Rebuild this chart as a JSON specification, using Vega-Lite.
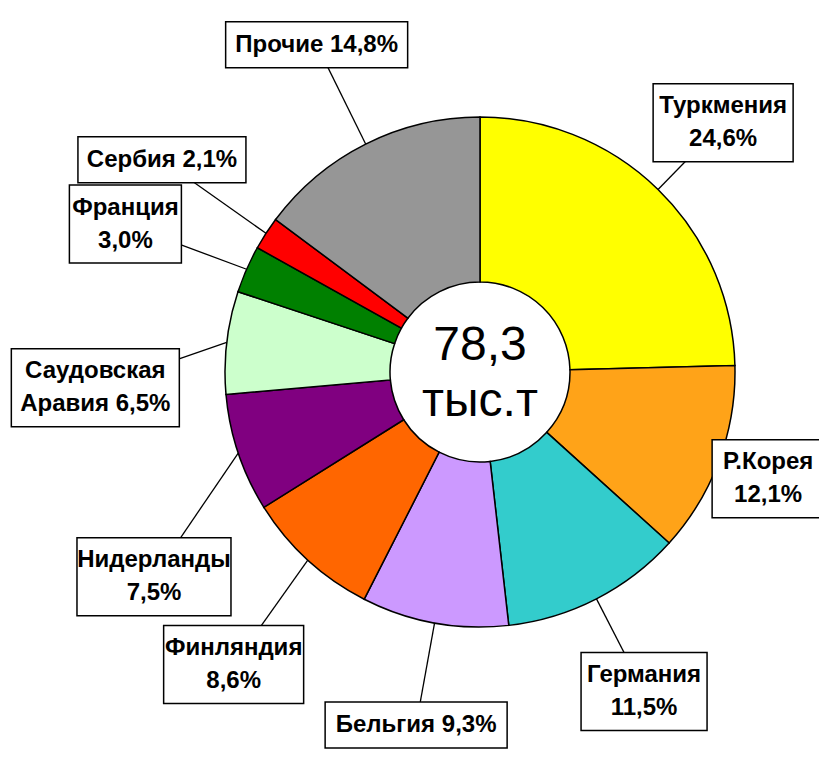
{
  "$schema": "https://vega.github.io/schema/vega-lite/v6.json",
  "width": 678,
  "height": 744,
  "autosize": {"type": "none"},
  "padding": {"left": 141, "top": 0, "right": 0, "bottom": 39},
  "background": "white",
  "config": {"view": {"stroke": null}},
  "datasets": {
    "shares": [
      {"rank": 1, "country": "Туркмения", "share": 24.6, "label": "Туркмения\n24,6%"},
      {"rank": 2, "country": "Р.Корея", "share": 12.1, "label": "Р.Корея\n12,1%"},
      {"rank": 3, "country": "Германия", "share": 11.5, "label": "Германия\n11,5%"},
      {"rank": 4, "country": "Бельгия", "share": 9.3, "label": "Бельгия 9,3%"},
      {"rank": 5, "country": "Финляндия", "share": 8.6, "label": "Финляндия\n8,6%"},
      {"rank": 6, "country": "Нидерланды", "share": 7.5, "label": "Нидерланды\n7,5%"},
      {"rank": 7, "country": "Саудовская Аравия", "share": 6.5, "label": "Саудовская\nАравия 6,5%"},
      {"rank": 8, "country": "Франция", "share": 3.0, "label": "Франция\n3,0%"},
      {"rank": 9, "country": "Сербия", "share": 2.1, "label": "Сербия 2,1%"},
      {"rank": 10, "country": "Прочие", "share": 14.8, "label": "Прочие 14,8%"}
    ],
    "total": [{"label": "78,3\nтыс.т"}]
  },
  "layer": [
    {
      "data": {"name": "shares"},
      "mark": {"type": "arc", "innerRadius": 90, "outerRadius": 255, "stroke": "black", "strokeWidth": 1.5},
      "encoding": {
        "theta": {"field": "share", "type": "quantitative", "stack": true},
        "order": {"field": "rank", "type": "quantitative"},
        "color": {
          "field": "country",
          "type": "nominal",
          "scale": {
            "domain": ["Туркмения", "Р.Корея", "Германия", "Бельгия", "Финляндия", "Нидерланды", "Саудовская Аравия", "Франция", "Сербия", "Прочие"],
            "range": ["#FFFF00", "#FFA318", "#33CCCC", "#CC99FF", "#FF6600", "#800080", "#CCFFCC", "#008000", "#FF0000", "#969696"]
          },
          "legend": null
        }
      }
    },
    {
      "data": {"name": "shares"},
      "transform": [
        {"stack": "share", "groupby": [], "sort": [{"field": "rank", "order": "ascending"}], "offset": "normalize", "as": ["s0", "s1"]}
      ],
      "mark": {"type": "rule", "stroke": "black", "strokeWidth": 1.3},
      "encoding": {
        "x": {"value": {"expr": "width/2 + 255*sin((PI*(datum.s0+datum.s1)))"}},
        "y": {"value": {"expr": "height/2 - 255*cos((PI*(datum.s0+datum.s1)))"}},
        "x2": {"value": {"expr": "width/2 + (385 - 90*pow(max(0, sin((PI*(datum.s0+datum.s1)))), 4) - 15*max(0, sin((PI*(datum.s0+datum.s1))))*max(0, cos((PI*(datum.s0+datum.s1)))) - 30*pow(max(0, cos((PI*(datum.s0+datum.s1)))), 4) - 30*pow(max(0, -cos((PI*(datum.s0+datum.s1)))), 8) - 25*max(0, -cos((PI*(datum.s0+datum.s1))))*max(0, sin((PI*(datum.s0+datum.s1)))))*sin(((PI*(datum.s0+datum.s1)) + 0.45*sin((PI*(datum.s0+datum.s1)) - 5.2011)*pow(max(0, -sin((PI*(datum.s0+datum.s1)))), 6)))"}},
        "y2": {"value": {"expr": "height/2 - (385 - 90*pow(max(0, sin((PI*(datum.s0+datum.s1)))), 4) - 15*max(0, sin((PI*(datum.s0+datum.s1))))*max(0, cos((PI*(datum.s0+datum.s1)))) - 30*pow(max(0, cos((PI*(datum.s0+datum.s1)))), 4) - 30*pow(max(0, -cos((PI*(datum.s0+datum.s1)))), 8) - 25*max(0, -cos((PI*(datum.s0+datum.s1))))*max(0, sin((PI*(datum.s0+datum.s1)))))*cos(((PI*(datum.s0+datum.s1)) + 0.45*sin((PI*(datum.s0+datum.s1)) - 5.2011)*pow(max(0, -sin((PI*(datum.s0+datum.s1)))), 6)))"}}
      }
    },
    {
      "data": {"name": "shares"},
      "transform": [
        {"stack": "share", "groupby": [], "sort": [{"field": "rank", "order": "ascending"}], "offset": "normalize", "as": ["s0", "s1"]}
      ],
      "mark": {
        "type": "rect",
        "fill": "white",
        "stroke": "black",
        "strokeWidth": 1.5,
        "x": {"expr": "width/2 + (385 - 90*pow(max(0, sin((PI*(datum.s0+datum.s1)))), 4) - 15*max(0, sin((PI*(datum.s0+datum.s1))))*max(0, cos((PI*(datum.s0+datum.s1)))) - 30*pow(max(0, cos((PI*(datum.s0+datum.s1)))), 4) - 30*pow(max(0, -cos((PI*(datum.s0+datum.s1)))), 8) - 25*max(0, -cos((PI*(datum.s0+datum.s1))))*max(0, sin((PI*(datum.s0+datum.s1)))))*sin(((PI*(datum.s0+datum.s1)) + 0.45*sin((PI*(datum.s0+datum.s1)) - 5.2011)*pow(max(0, -sin((PI*(datum.s0+datum.s1)))), 6))) - (14*(indexof(datum.label, '\\n') >= 0 ? max(indexof(datum.label, '\\n'), length(datum.label) - indexof(datum.label, '\\n') - 1) : length(datum.label)) + 14)/2"},
        "x2": {"expr": "width/2 + (385 - 90*pow(max(0, sin((PI*(datum.s0+datum.s1)))), 4) - 15*max(0, sin((PI*(datum.s0+datum.s1))))*max(0, cos((PI*(datum.s0+datum.s1)))) - 30*pow(max(0, cos((PI*(datum.s0+datum.s1)))), 4) - 30*pow(max(0, -cos((PI*(datum.s0+datum.s1)))), 8) - 25*max(0, -cos((PI*(datum.s0+datum.s1))))*max(0, sin((PI*(datum.s0+datum.s1)))))*sin(((PI*(datum.s0+datum.s1)) + 0.45*sin((PI*(datum.s0+datum.s1)) - 5.2011)*pow(max(0, -sin((PI*(datum.s0+datum.s1)))), 6))) + (14*(indexof(datum.label, '\\n') >= 0 ? max(indexof(datum.label, '\\n'), length(datum.label) - indexof(datum.label, '\\n') - 1) : length(datum.label)) + 14)/2"},
        "y": {"expr": "height/2 - (385 - 90*pow(max(0, sin((PI*(datum.s0+datum.s1)))), 4) - 15*max(0, sin((PI*(datum.s0+datum.s1))))*max(0, cos((PI*(datum.s0+datum.s1)))) - 30*pow(max(0, cos((PI*(datum.s0+datum.s1)))), 4) - 30*pow(max(0, -cos((PI*(datum.s0+datum.s1)))), 8) - 25*max(0, -cos((PI*(datum.s0+datum.s1))))*max(0, sin((PI*(datum.s0+datum.s1)))))*cos(((PI*(datum.s0+datum.s1)) + 0.45*sin((PI*(datum.s0+datum.s1)) - 5.2011)*pow(max(0, -sin((PI*(datum.s0+datum.s1)))), 6))) - (indexof(datum.label, '\\n') >= 0 ? 39 : 23)"},
        "y2": {"expr": "height/2 - (385 - 90*pow(max(0, sin((PI*(datum.s0+datum.s1)))), 4) - 15*max(0, sin((PI*(datum.s0+datum.s1))))*max(0, cos((PI*(datum.s0+datum.s1)))) - 30*pow(max(0, cos((PI*(datum.s0+datum.s1)))), 4) - 30*pow(max(0, -cos((PI*(datum.s0+datum.s1)))), 8) - 25*max(0, -cos((PI*(datum.s0+datum.s1))))*max(0, sin((PI*(datum.s0+datum.s1)))))*cos(((PI*(datum.s0+datum.s1)) + 0.45*sin((PI*(datum.s0+datum.s1)) - 5.2011)*pow(max(0, -sin((PI*(datum.s0+datum.s1)))), 6))) + (indexof(datum.label, '\\n') >= 0 ? 39 : 23)"}
      }
    },
    {
      "data": {"name": "shares"},
      "transform": [
        {"stack": "share", "groupby": [], "sort": [{"field": "rank", "order": "ascending"}], "offset": "normalize", "as": ["s0", "s1"]}
      ],
      "mark": {
        "type": "text",
        "font": "Liberation Sans",
        "fontSize": 24,
        "fontWeight": "bold",
        "lineBreak": "\n",
        "lineHeight": 33,
        "align": "center",
        "baseline": "middle",
        "color": "black"
      },
      "encoding": {
        "x": {"value": {"expr": "width/2 + (385 - 90*pow(max(0, sin((PI*(datum.s0+datum.s1)))), 4) - 15*max(0, sin((PI*(datum.s0+datum.s1))))*max(0, cos((PI*(datum.s0+datum.s1)))) - 30*pow(max(0, cos((PI*(datum.s0+datum.s1)))), 4) - 30*pow(max(0, -cos((PI*(datum.s0+datum.s1)))), 8) - 25*max(0, -cos((PI*(datum.s0+datum.s1))))*max(0, sin((PI*(datum.s0+datum.s1)))))*sin(((PI*(datum.s0+datum.s1)) + 0.45*sin((PI*(datum.s0+datum.s1)) - 5.2011)*pow(max(0, -sin((PI*(datum.s0+datum.s1)))), 6)))"}},
        "y": {"value": {"expr": "height/2 - (385 - 90*pow(max(0, sin((PI*(datum.s0+datum.s1)))), 4) - 15*max(0, sin((PI*(datum.s0+datum.s1))))*max(0, cos((PI*(datum.s0+datum.s1)))) - 30*pow(max(0, cos((PI*(datum.s0+datum.s1)))), 4) - 30*pow(max(0, -cos((PI*(datum.s0+datum.s1)))), 8) - 25*max(0, -cos((PI*(datum.s0+datum.s1))))*max(0, sin((PI*(datum.s0+datum.s1)))))*cos(((PI*(datum.s0+datum.s1)) + 0.45*sin((PI*(datum.s0+datum.s1)) - 5.2011)*pow(max(0, -sin((PI*(datum.s0+datum.s1)))), 6))) + (indexof(datum.label, '\\n') >= 0 ? -16.5 : 0)"}},
        "text": {"field": "label", "type": "nominal"}
      }
    },
    {
      "data": {"name": "total"},
      "mark": {
        "type": "text",
        "font": "Liberation Sans",
        "fontSize": 48,
        "lineBreak": "\n",
        "lineHeight": 56,
        "align": "center",
        "baseline": "middle",
        "dy": -26,
        "color": "black"
      },
      "encoding": {
        "text": {"field": "label", "type": "nominal"}
      }
    }
  ]
}
